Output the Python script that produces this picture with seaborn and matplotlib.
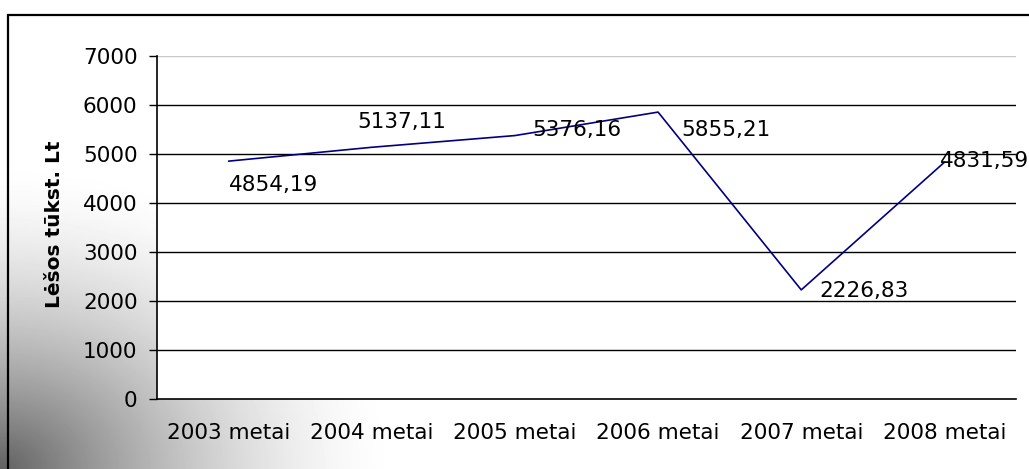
import numpy as np
import pandas as pd
import matplotlib
matplotlib.use("Agg")
import matplotlib.pyplot as plt
import matplotlib.patches as patches
import seaborn as sns

# Chart data
years = ["2003 metai", "2004 metai", "2005 metai", "2006 metai", "2007 metai", "2008 metai"]
funds = [4854.19, 5137.11, 5376.16, 5855.21, 2226.83, 4831.59]
value_labels = ["4854,19", "5137,11", "5376,16", "5855,21", "2226,83", "4831,59"]
y_ticks = [0, 1000, 2000, 3000, 4000, 5000, 6000, 7000]

# label offsets in pixels (as placed in the original)
label_offsets = [(0, -24), (-14, 25), (17, 6), (23, -18), (18, -1), (-4, 1)]

df = pd.DataFrame({"year": years, "funds": funds})

sns.set_style("white")
plt.rcParams["font.family"] = ["DejaVu Sans"]
plt.rcParams["text.color"] = "black"
plt.rcParams["xtick.color"] = "black"
plt.rcParams["ytick.color"] = "black"

W, H = 1029, 469
fig = plt.figure(figsize=(W / 100, H / 100), dpi=100)

# grey gradient in the lower-left corner
bg = fig.add_axes([0, 0, 1, 1], zorder=-10)
xx, yy = np.meshgrid(np.arange(W), np.arange(H))
d = np.clip(np.sqrt((xx / 400.0) ** 2 + ((H - yy) / 310.0) ** 2), 0, 1)
shade = 1 - 0.62 * (1 - d) ** 1.6
bg.imshow(shade, cmap="gray", vmin=0, vmax=1, aspect="auto",
          extent=[0, W, H, 0], interpolation="bilinear")
bg.set_xlim(0, W)
bg.set_ylim(H, 0)
bg.axis("off")

# outer chart border
fig.add_artist(patches.Rectangle((8 / W, -0.1), 1.2, 1 - 15 / H + 0.1,
                                 transform=fig.transFigure, fill=False,
                                 edgecolor="black", linewidth=1.6))

ax = fig.add_axes([157 / W, 1 - 399 / H, (1016 - 157) / W, (399 - 56) / H])
ax.set_facecolor("white")

sns.lineplot(data=df, x="year", y="funds", ax=ax, color="#000080",
             linewidth=1.2, sort=False)

ax.set_xlim(-0.5, 5.5)
ax.set_ylim(0, 7000)
ax.set_yticks(y_ticks)
ax.set_yticklabels([str(t) for t in y_ticks], fontsize=15.5)

# gridlines
for t in y_ticks[1:]:
    ax.axhline(t, color="#c8c8c8" if t == 7000 else "black", linewidth=1.0, zorder=0)

# category ticks between labels, labels centred
ax.set_xticks(np.arange(-0.5, 6.0, 1.0))
ax.set_xticklabels([])
ax.set_xticks(np.arange(6), minor=True)
ax.set_xticklabels(years, minor=True, fontsize=15.5)
ax.tick_params(axis="x", which="major", length=5, width=1, direction="out", color="black")
ax.tick_params(axis="x", which="minor", length=0, pad=17)
ax.tick_params(axis="y", length=6, width=1, direction="out", color="black", pad=8, left=True)

for s in ["top", "right"]:
    ax.spines[s].set_visible(False)
for s in ["left", "bottom"]:
    ax.spines[s].set_color("black")
    ax.spines[s].set_linewidth(1.2)

ax.set_xlabel("")
ax.set_ylabel("")

for i, (txt, off) in enumerate(zip(value_labels, label_offsets)):
    ax.annotate(txt, (i, funds[i]), xytext=off, textcoords="offset pixels",
                ha="left", va="center", fontsize=15.5, color="black",
                annotation_clip=False)

fig.text(55 / W, 1 - 224 / H, "Lėšos tūkst. Lt", rotation=90, ha="center",
         va="center", fontsize=14.5, fontweight="bold", color="black")

fig.savefig("out.png", dpi=100)
